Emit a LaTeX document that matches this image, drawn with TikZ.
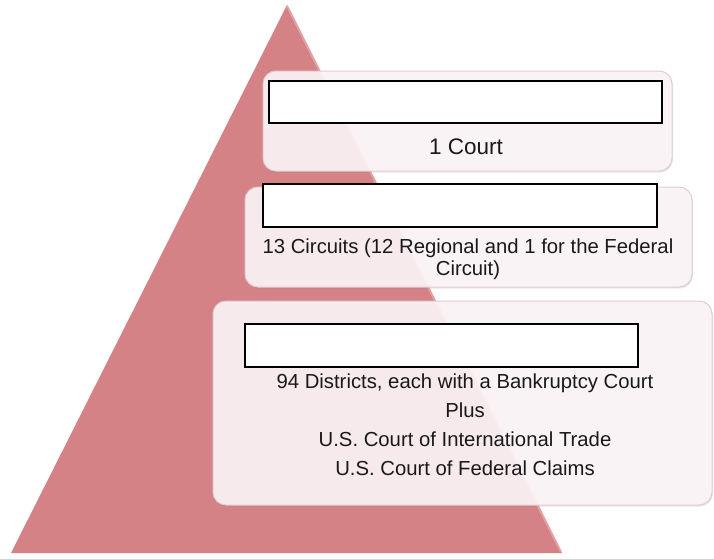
\documentclass[tikz,border=0pt]{standalone}
\usepackage{fontspec}
\setmainfont{Liberation Sans}
\usetikzlibrary{shadows}

\definecolor{pyrared}{RGB}{212,130,134}
\definecolor{pyraedge}{RGB}{228,160,164}
\definecolor{boxfill}{RGB}{252,244,246}
\definecolor{boxline}{RGB}{226,204,208}

\tikzset{
    tierbox/.style={draw=boxline, line width=1pt, fill=boxfill, fill opacity=0.92, rounded corners=13pt,
        drop shadow={opacity=0.2, shadow xshift=1pt, shadow yshift=-1.5pt}},
    blank/.style={draw=black, line width=2pt, fill=white, inner sep=0pt},
    tiertext/.style={align=center, text=black!90}
}

\begin{document}
\begin{tikzpicture}[x=1pt, y=-1pt]
    \useasboundingbox (0, 0) rectangle (714, 558);
    % pyramid
    \fill[pyrared] (287, 5) -- (562, 553) -- (11, 553) -- cycle;
    \draw[pyraedge, line width=2pt] (287, 6) -- (561, 552);

    % boxes: supreme appeals district
    \node[tierbox, minimum width=409pt, minimum height=100pt] (supreme) at (467.5, 121) {};
    \node[tierbox, minimum width=447pt, minimum height=100pt] (appeals) at (468.5, 237) {};
    \node[tierbox, minimum width=499pt, minimum height=204pt] (district) at (462.5, 403) {};

    % blanked titles
    \node[blank, minimum width=393pt, minimum height=42pt] (supremetitle) at (465.5, 102) {};
    \node[blank, minimum width=394pt, minimum height=43pt] (appealstitle) at (460, 205.5) {};
    \node[blank, minimum width=393pt, minimum height=43pt] (districttitle) at (441.5, 345.5) {};

    % texts
    \node[tiertext, font=\fontsize{22.5}{27}\selectfont] (supremetext) at (466, 147) {1 Court};
    \node[tiertext, font=\fontsize{20.3}{22}\selectfont] (appealstext) at (468, 259)
        {13 Circuits (12 Regional and 1 for the Federal\\Circuit)};
    \node[tiertext, font=\fontsize{20.3}{29}\selectfont] (districttext) at (465, 424.5)
        {94 Districts, each with a Bankruptcy Court\\Plus\\U.S. Court of International Trade\\U.S. Court of Federal Claims};
\end{tikzpicture}
\end{document}
